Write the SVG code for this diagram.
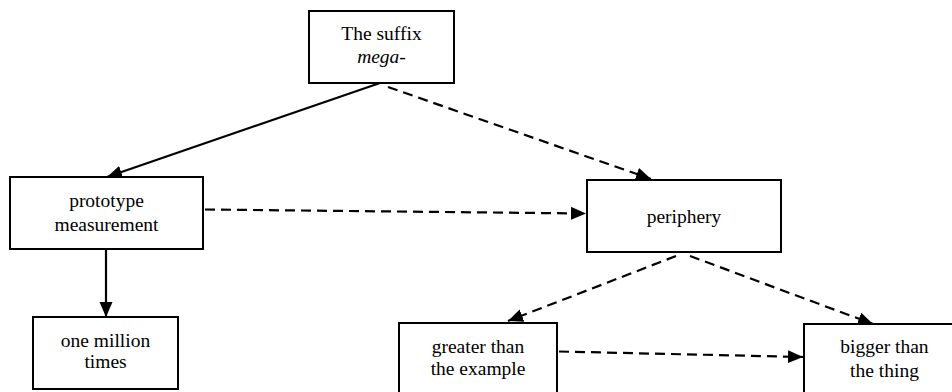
<svg xmlns="http://www.w3.org/2000/svg" width="952" height="392" viewBox="0 0 952 392">
<style>
.box{fill:#fff;stroke:#000;stroke-width:2}
text{font-family:'Liberation Serif','DejaVu Serif',serif;font-size:19.5px;fill:#000;text-anchor:middle}
.solid{stroke:#000;stroke-width:2.2;fill:none}
.dash{stroke:#000;stroke-width:2.2;fill:none;stroke-dasharray:10 6}
</style>
<defs>
<marker id="ah" markerUnits="userSpaceOnUse" markerWidth="16" markerHeight="14" refX="15" refY="6.5" orient="auto">
<path d="M0,0 L15,6.5 L0,13 z" fill="#000"/>
</marker>
</defs>
<rect width="952" height="392" fill="#fff"/>
<g id="connectors">
<line class="solid" x1="380" y1="83" x2="107" y2="177" marker-end="url(#ah)"/>
<line class="dash" x1="388" y1="87" x2="651" y2="179" marker-end="url(#ah)"/>
<line class="dash" x1="205" y1="209.5" x2="586" y2="213.5" marker-end="url(#ah)"/>
<line class="solid" x1="106" y1="250" x2="106" y2="317" marker-end="url(#ah)"/>
<line class="dash" x1="676" y1="256" x2="508" y2="321" marker-end="url(#ah)"/>
<line class="dash" x1="690" y1="256" x2="873" y2="324" marker-end="url(#ah)"/>
<line class="dash" x1="559" y1="351.5" x2="803" y2="357" marker-end="url(#ah)"/>
</g>
<g id="n-mega">
<rect class="box" x="309" y="11" width="145" height="72"/>
<text x="381.5" y="40" font-family="Liberation Serif, serif">The suffix</text>
<text x="381.5" y="63" font-family="Liberation Serif, serif" font-style="italic">mega-</text>
</g>
<g id="n-prototype">
<rect class="box" x="10" y="177" width="193" height="72"/>
<text x="106.5" y="207" font-family="Liberation Serif, serif">prototype</text>
<text x="106.5" y="231" font-family="Liberation Serif, serif">measurement</text>
</g>
<g id="n-periphery">
<rect class="box" x="587" y="180" width="194" height="72"/>
<text x="684" y="223" font-family="Liberation Serif, serif">periphery</text>
</g>
<g id="n-million">
<rect class="box" x="33" y="317" width="145" height="72"/>
<text x="105.5" y="347" font-family="Liberation Serif, serif">one million</text>
<text x="105.5" y="368" font-family="Liberation Serif, serif">times</text>
</g>
<g id="n-greater">
<rect class="box" x="399" y="323" width="158" height="80"/>
<text x="478" y="353" font-family="Liberation Serif, serif">greater than</text>
<text x="478" y="375" font-family="Liberation Serif, serif">the example</text>
</g>
<g id="n-bigger">
<rect class="box" x="804" y="324" width="162" height="80"/>
<text x="884.5" y="353" font-family="Liberation Serif, serif">bigger than</text>
<text x="884.5" y="377" font-family="Liberation Serif, serif">the thing</text>
</g>
</svg>
